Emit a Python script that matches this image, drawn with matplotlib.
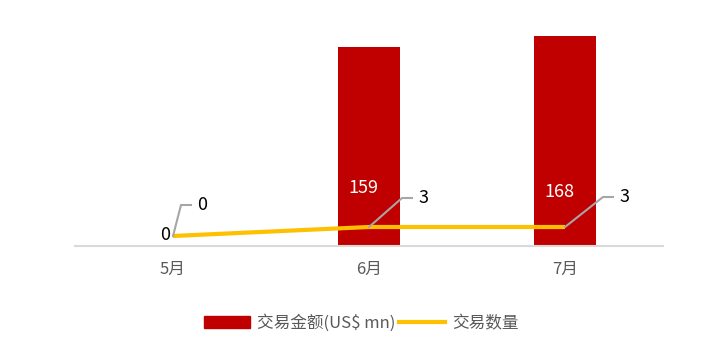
import matplotlib.pyplot as plt
from matplotlib.lines import Line2D
from matplotlib.patches import Patch
from matplotlib.transforms import IdentityTransform

plt.rcParams['font.family'] = ['Noto Sans CJK SC', 'DejaVu Sans']

months = ['5月', '6月', '7月']
amount = [0, 159, 168]      # 交易金额(US$ mn)
count = [0, 3, 3]           # 交易数量

bar_color = '#C00000'
line_color = '#FFC000'
grey = '#595959'

W, H = 723, 353
fig = plt.figure(figsize=(W / 100, H / 100), dpi=100)
ax = fig.add_axes([75 / W, (H - 246) / H, 588 / W, 225 / H])
x = list(range(len(months)))

ax.bar(x, amount, width=0.32, color=bar_color, zorder=2)
ax.set_xlim(-0.5, 2.5)
ax.set_ylim(0, 180)
for s in ['top', 'right', 'left']:
    ax.spines[s].set_visible(False)
ax.spines['bottom'].set_color('#d9d9d9')
ax.spines['bottom'].set_linewidth(1.5)
ax.set_yticks([])
ax.set_xticks(x)
ax.set_xticklabels(months, color=grey, fontsize=12)
ax.tick_params(axis='x', length=0, pad=11)

ax2 = ax.twinx()
ax2.set_ylim(-10 / 3, 75 - 10 / 3)
ax2.axis('off')
ax2.plot(x, count, color=line_color, lw=3, solid_capstyle='butt', zorder=3)

# bar labels
bar_lbl_y = [2, 39, 36]
for i, v in enumerate(amount):
    ax.text(i - 0.04 if v == 0 else i - 0.03, bar_lbl_y[i], str(v), ha='center', va='bottom',
            color='black' if v == 0 else 'white', fontsize=13)

# line labels with leader lines
offs = [(8, 31), (33, 29), (38, 30)]
for i, v in enumerate(count):
    px, py = ax2.transData.transform((i, v))
    dx, dy = offs[i]
    xs = [px, px + dx, px + dx + 10]
    ys = [py, py + dy, py + dy]
    fig.add_artist(Line2D(xs, ys, transform=IdentityTransform(), color='#a6a6a6', lw=1.5))
    fig.text((px + dx + 16) / W, (py + dy) / H, str(v), ha='left', va='center',
             color='black', fontsize=13)

handles = [Patch(color=bar_color), Line2D([0], [0], color=line_color, lw=3)]
fig.legend(handles, ['交易金额(US$ mn)', '交易数量'], loc='center', ncol=2,
           bbox_to_anchor=(361 / W, (H - 323) / H), frameon=False,
           fontsize=12, labelcolor=grey, handlelength=2.8, handletextpad=0.4,
           columnspacing=0.2)

fig.savefig('out.png', dpi=100)
